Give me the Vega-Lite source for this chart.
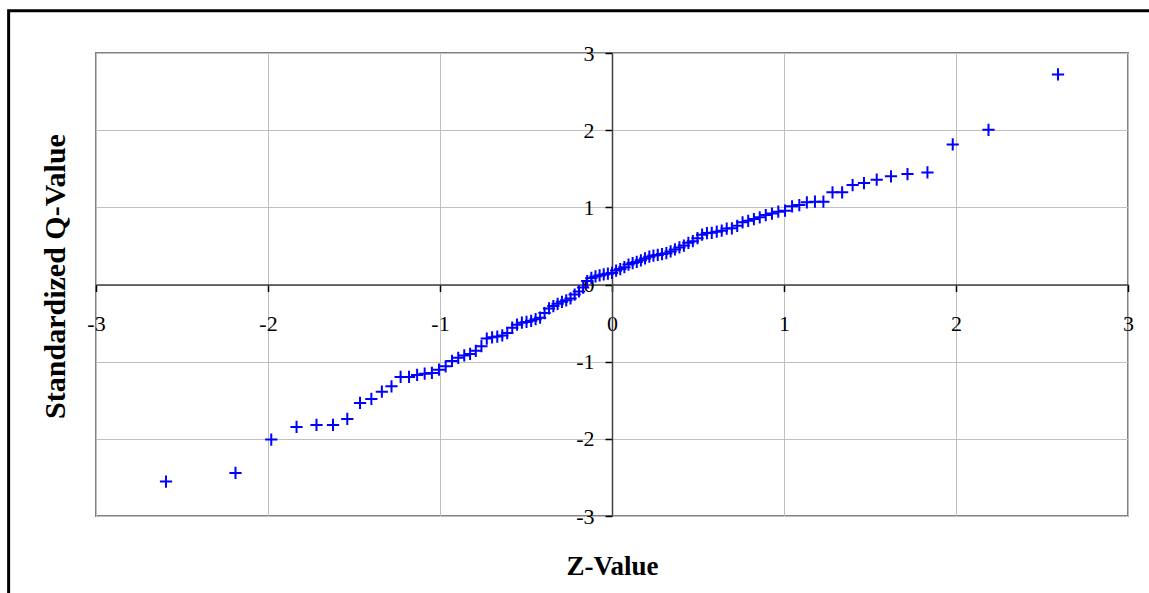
{
  "$schema": "https://vega.github.io/schema/vega-lite/v6.json",
  "width": 1032,
  "height": 463,
  "autosize": {"type": "none"},
  "padding": {"left": 96, "top": 53, "right": 21, "bottom": 77},
  "background": "white",
  "config": {"view": {"stroke": "#808080", "strokeWidth": 2}, "font": "Liberation Serif"},
  "layer": [
    {
      "data": {"values": [
        {"z": -2.593, "q": -2.554}, {"z": -2.189, "q": -2.442}, {"z": -1.981, "q": -2.010}, {"z": -1.834, "q": -1.846},
        {"z": -1.718, "q": -1.820}, {"z": -1.622, "q": -1.820}, {"z": -1.539, "q": -1.742}, {"z": -1.465, "q": -1.535},
        {"z": -1.399, "q": -1.483}, {"z": -1.338, "q": -1.389}, {"z": -1.282, "q": -1.319}, {"z": -1.229, "q": -1.198},
        {"z": -1.180, "q": -1.198}, {"z": -1.133, "q": -1.172}, {"z": -1.089, "q": -1.155}, {"z": -1.047, "q": -1.146},
        {"z": -1.006, "q": -1.104}, {"z": -0.967, "q": -1.060}, {"z": -0.930, "q": -0.990}, {"z": -0.894, "q": -0.950},
        {"z": -0.859, "q": -0.920}, {"z": -0.825, "q": -0.900}, {"z": -0.792, "q": -0.860}, {"z": -0.759, "q": -0.800},
        {"z": -0.728, "q": -0.700}, {"z": -0.697, "q": -0.685}, {"z": -0.667, "q": -0.675}, {"z": -0.638, "q": -0.660},
        {"z": -0.609, "q": -0.630}, {"z": -0.580, "q": -0.560}, {"z": -0.552, "q": -0.520}, {"z": -0.524, "q": -0.495},
        {"z": -0.497, "q": -0.485}, {"z": -0.470, "q": -0.470}, {"z": -0.444, "q": -0.450}, {"z": -0.418, "q": -0.430},
        {"z": -0.392, "q": -0.370}, {"z": -0.366, "q": -0.310}, {"z": -0.341, "q": -0.280}, {"z": -0.316, "q": -0.250},
        {"z": -0.291, "q": -0.225}, {"z": -0.266, "q": -0.205}, {"z": -0.241, "q": -0.180}, {"z": -0.217, "q": -0.130},
        {"z": -0.192, "q": -0.090}, {"z": -0.168, "q": -0.040}, {"z": -0.144, "q": 0.045}, {"z": -0.120, "q": 0.085},
        {"z": -0.096, "q": 0.105}, {"z": -0.072, "q": 0.117}, {"z": -0.048, "q": 0.130}, {"z": -0.024, "q": 0.140},
        {"z": 0.000, "q": 0.150}, {"z": 0.024, "q": 0.180}, {"z": 0.048, "q": 0.200}, {"z": 0.072, "q": 0.225},
        {"z": 0.096, "q": 0.258}, {"z": 0.120, "q": 0.278}, {"z": 0.144, "q": 0.293}, {"z": 0.168, "q": 0.313},
        {"z": 0.192, "q": 0.337}, {"z": 0.217, "q": 0.360}, {"z": 0.241, "q": 0.375}, {"z": 0.266, "q": 0.383},
        {"z": 0.291, "q": 0.394}, {"z": 0.316, "q": 0.405}, {"z": 0.341, "q": 0.428}, {"z": 0.366, "q": 0.455},
        {"z": 0.392, "q": 0.480}, {"z": 0.418, "q": 0.505}, {"z": 0.444, "q": 0.540}, {"z": 0.470, "q": 0.562},
        {"z": 0.497, "q": 0.600}, {"z": 0.524, "q": 0.645}, {"z": 0.552, "q": 0.667}, {"z": 0.580, "q": 0.670},
        {"z": 0.609, "q": 0.685}, {"z": 0.638, "q": 0.698}, {"z": 0.667, "q": 0.725}, {"z": 0.697, "q": 0.728},
        {"z": 0.728, "q": 0.760}, {"z": 0.759, "q": 0.806}, {"z": 0.792, "q": 0.826}, {"z": 0.825, "q": 0.848},
        {"z": 0.859, "q": 0.870}, {"z": 0.894, "q": 0.900}, {"z": 0.930, "q": 0.920}, {"z": 0.967, "q": 0.943},
        {"z": 1.006, "q": 0.956}, {"z": 1.047, "q": 1.013}, {"z": 1.089, "q": 1.030}, {"z": 1.133, "q": 1.065},
        {"z": 1.180, "q": 1.073}, {"z": 1.229, "q": 1.073}, {"z": 1.282, "q": 1.194}, {"z": 1.338, "q": 1.194},
        {"z": 1.399, "q": 1.289}, {"z": 1.465, "q": 1.315}, {"z": 1.539, "q": 1.358}, {"z": 1.622, "q": 1.402},
        {"z": 1.718, "q": 1.431}, {"z": 1.834, "q": 1.453}, {"z": 1.981, "q": 1.815}, {"z": 2.189, "q": 2.005},
        {"z": 2.593, "q": 2.723}
      ]},
      "mark": {"type": "point", "shape": "M-1,0L1,0M0,-1L0,1", "size": 150, "filled": false, "color": "#0000ff", "strokeWidth": 2, "opacity": 1},
      "encoding": {
        "x": {
          "field": "z", "type": "quantitative",
          "scale": {"domain": [-3, 3], "nice": false, "zero": false},
          "axis": {
            "title": "Z-Value", "values": [-3, -2, -1, 0, 1, 2, 3], "offset": -231.5,
            "labelExpr": "toString(datum.value)",
            "grid": true, "gridColor": "#c0c0c0", "gridWidth": 1,
            "domainColor": "#404040", "domainWidth": 1.5,
            "tickColor": "#000000", "tickSize": 7, "tickWidth": 1.5,
            "labelFont": "Liberation Serif", "labelFontSize": 22, "labelColor": "#000000", "labelPadding": 22,
            "labelFlush": false, "labelOverlap": false,
            "titleFont": "Liberation Serif", "titleFontSize": 27, "titleFontWeight": "bold", "titleColor": "#000000",
            "titleY": 290, "titleBaseline": "alphabetic"
          }
        },
        "y": {
          "field": "q", "type": "quantitative",
          "scale": {"domain": [-3, 3], "nice": false, "zero": false},
          "axis": {
            "title": "Standardized Q-Value", "values": [-3, -2, -1, 0, 1, 2, 3], "offset": -516,
            "labelExpr": "toString(datum.value)",
            "grid": true, "gridColor": "#c0c0c0", "gridWidth": 1,
            "domainColor": "#404040", "domainWidth": 1.5,
            "tickColor": "#000000", "tickSize": 7, "tickWidth": 1.5,
            "labelFont": "Liberation Serif", "labelFontSize": 22, "labelColor": "#000000", "labelPadding": 11,
            "labelFlush": false, "labelOverlap": false,
            "titleFont": "Liberation Serif", "titleFontSize": 30, "titleFontWeight": "bold", "titleColor": "#000000",
            "titleAngle": -90, "titleX": -548, "titleY": 223, "titleBaseline": "alphabetic"
          }
        }
      }
    },
    {
      "data": {"values": [{}]},
      "mark": {"type": "rect", "fillOpacity": 0, "stroke": "#000000", "strokeWidth": 3},
      "encoding": {
        "x": {"datum": -3.508, "type": "quantitative"},
        "x2": {"datum": 3.3},
        "y": {"datum": 3.548, "type": "quantitative"},
        "y2": {"datum": -4.3}
      }
    }
  ]
}
